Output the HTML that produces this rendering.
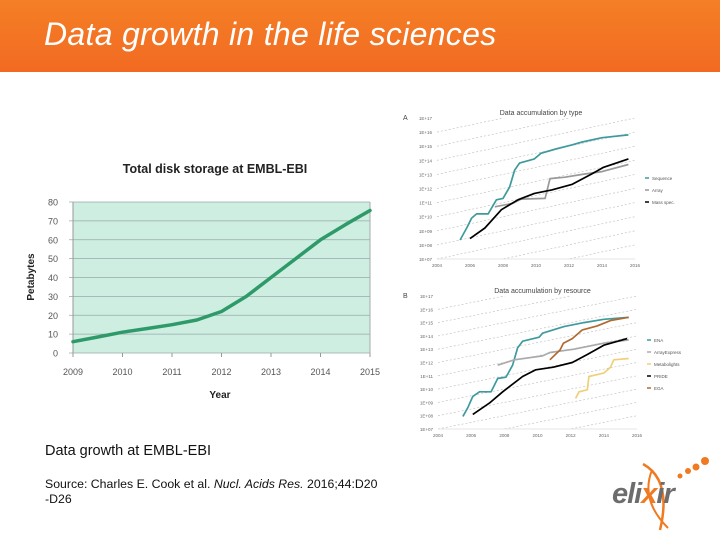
<!DOCTYPE html>
<html><head><meta charset="utf-8"><style>
body{margin:0;width:720px;height:540px;background:#fff;overflow:hidden;position:relative;font-family:"Liberation Sans",sans-serif}
.hdr{position:absolute;left:0;top:0;width:720px;height:72px;background:linear-gradient(#f47f25,#f26a22)}
.hdr h1{margin:0;position:absolute;left:44px;top:16px;font:italic 32px "Liberation Sans",sans-serif;color:#fff;font-weight:normal;letter-spacing:0.3px}
.cap{position:absolute;left:45px;color:#111}
svg{position:absolute;left:0;top:0}
</style></head><body>
<div class="hdr"><h1>Data growth in the life sciences</h1></div>
<div class="cap" style="top:443px;font-size:14.5px">Data growth at EMBL-EBI</div>
<div class="cap" style="top:477px;font-size:12.3px;line-height:15px;width:340px">Source: Charles E. Cook et al. <i>Nucl. Acids Res.</i> 2016;44:D20<br>-D26</div>
<svg id="s" width="720" height="540"></svg>
<script>
// Main chart data
const years=[2009,2009.5,2010,2010.5,2011,2011.5,2012,2012.5,2013,2013.5,2014,2014.5,2015];
const petabytes=[6,8.5,11,13,15,17.5,22,30,40,50,60,68,75.5];
const xTicks=[2009,2010,2011,2012,2013,2014,2015];
const yTicks=[0,10,20,30,40,50,60,70,80];
// Chart A data
const aSeqX=[2005.4,2005.8,2006.1,2006.4,2007.1,2007.6,2008.0,2008.4,2008.7,2009.0,2009.9,2010.3,2011.2,2012.2,2012.8,2014.0,2015.6];
const aSeqY=[8.35,9.2,9.9,10.2,10.2,11.2,11.3,12.1,13.3,13.8,14.1,14.5,14.8,15.1,15.3,15.6,15.8];
const aArrX=[2007.5,2008.6,2009.1,2010.55,2010.85,2011.76,2012.8,2014.0,2015.6];
const aArrY=[10.7,10.95,11.25,11.3,12.7,12.8,13.0,13.2,13.7];
const aMsX=[2006.0,2006.9,2007.9,2008.9,2009.9,2010.96,2012.2,2013.4,2014.1,2015.6];
const aMsY=[8.45,9.2,10.5,11.2,11.65,11.9,12.3,13.05,13.5,14.1];
// Chart B data
const bEnaX=[2005.5,2005.8,2006.1,2006.5,2007.2,2007.6,2008.1,2008.5,2008.8,2009.1,2010.1,2010.3,2011.6,2012.8,2014.0,2015.5];
const bEnaY=[7.95,8.6,9.45,9.8,9.8,10.8,10.9,11.8,13.1,13.6,13.9,14.2,14.7,15.0,15.25,15.4];
const bArrX=[2007.6,2008.6,2010.3,2010.75,2012.2,2014.0,2015.5];
const bArrY=[11.8,12.2,12.5,12.75,13.0,13.45,13.7];
const bMetX=[2012.3,2012.5,2013.0,2013.1,2014.0,2014.4,2014.6,2015.5];
const bMetY=[9.3,9.8,9.95,10.95,11.2,11.65,12.2,12.3];
const bPriX=[2006.1,2007.1,2007.9,2009.1,2009.9,2010.95,2012.1,2013.0,2014.0,2015.4];
const bPriY=[8.1,8.95,9.8,10.95,11.45,11.65,12.0,12.6,13.3,13.8];
const bEgaX=[2010.75,2011.36,2011.56,2012.1,2012.7,2013.6,2014.4,2015.5];
const bEgaY=[12.2,12.95,13.45,13.8,14.45,14.75,15.15,15.4];
const smallXTicks=[2004,2006,2008,2010,2012,2014,2016];
const smallYTicks=[7,8,9,10,11,12,13,14,15,16,17];

const S=document.getElementById('s');const NS='http://www.w3.org/2000/svg';
function el(t,a,p){const e=document.createElementNS(NS,t);for(const k in a)e.setAttribute(k,a[k]);(p||S).appendChild(e);return e;}
function txt(x,y,s,a){const e=el('text',Object.assign({x:x,y:y},a));e.textContent=s;return e;}

// Main chart
const L=73,R=370,T=202,B=353;
const mx=v=>L+(v-2009)/6*(R-L), my=v=>B-v/80*(B-T);
const g=el('g',{});


el('rect',{x:L,y:T,width:R-L,height:B-T,fill:'#cdeee0'},g);
yTicks.forEach(v=>{const ln=el('line',{x1:L-4,x2:R,y1:my(v),y2:my(v),stroke:'#9aa',"stroke-width":0.8},g);

const t=txt(58,my(v)+3.5,v,{"font-size":9,fill:'#555',"text-anchor":'end'},g);g.appendChild(t);
});
el('line',{x1:L,x2:L,y1:T,y2:B,stroke:'#999'},g);el('line',{x1:R,x2:R,y1:T,y2:B,stroke:'#aaa'},g);
xTicks.forEach(v=>{el('line',{x1:mx(v),x2:mx(v),y1:B,y2:B+4,stroke:'#999'},g);
const t=txt(mx(v),375,v,{"font-size":9,fill:'#555',"text-anchor":'middle'});g.appendChild(t);
});
let d='';years.forEach((y,i)=>{d+=(i?'L':'M')+mx(y).toFixed(1)+','+my(petabytes[i]).toFixed(1);});
const ml=el('path',{d:d,fill:'none',stroke:'#2e9a6a',"stroke-width":3.5,"stroke-linejoin":'round',"stroke-linecap":'round'},g);

let t1=txt(215,173,'Total disk storage at EMBL-EBI',{"font-size":12.5,"font-weight":'bold',fill:'#222',"text-anchor":'middle'});

let t2=txt(220,398,'Year',{"font-size":10,"font-weight":'bold',fill:'#222',"text-anchor":'middle'});

let t3=txt(0,0,'Petabytes',{"font-size":10,"font-weight":'bold',fill:'#222',"text-anchor":'middle',transform:'translate(34,277) rotate(-90)'});


// Small log charts
function small(name,ox,oy,top,bot,left,right,title,letter,series,legY){
 const gg=el('g',{});
 const sx=v=>left+(v-2004)/12*(right-left), sy=v=>bot-(v-7)/10*(bot-top);
 const cid=name+'-clip';const cp=el('clipPath',{id:cid},gg);el('rect',{x:left,y:top,width:right-left,height:bot-top},cp);
 for(let c=-2;c<17;c++){el('line',{x1:sx(2004),y1:sy(c),x2:sx(2016),y2:sy(c+3),stroke:'#bbb',"stroke-width":0.6,"stroke-dasharray":'2,2',"clip-path":'url(#'+cid+')'},gg);}
 smallYTicks.forEach(v=>{const t=txt(left-5,sy(v)+2,'1E+'+(v<10?'0':'')+v,{"font-size":4.5,fill:'#666',"text-anchor":'end'});gg.appendChild(t);
 });
 smallXTicks.forEach(v=>{const t=txt(sx(v),bot+8,v,{"font-size":4.5,fill:'#666',"text-anchor":'middle'});gg.appendChild(t);
 });
 el('line',{x1:left,x2:right,y1:bot,y2:bot,stroke:'#ccc',"stroke-width":0.5},gg);
 const tt=txt((left+right)/2+5,top-3,title,{"font-size":7,fill:'#444',"text-anchor":'middle'});gg.appendChild(tt);
 
 const lt=txt(ox,top+2,letter,{"font-size":7,fill:'#444'});gg.appendChild(lt);
 
 series.forEach((s,i)=>{let d='';s.x.forEach((x,j)=>{d+=(j?'L':'M')+sx(x).toFixed(1)+','+sy(s.y[j]).toFixed(1);});
  const p=el('path',{d:d,fill:'none',stroke:s.c,"stroke-width":1.7,"stroke-linejoin":'round'},gg);
  
  const ly=legY+i*(s.gap);
  el('line',{x1:right+10,x2:right+14,y1:ly,y2:ly,stroke:s.c,"stroke-width":1.5},gg);
  const lg=txt(right+17,ly+2,s.label,{"font-size":4.5,fill:'#555'});gg.appendChild(lg);
  });
}
small('chart-by-type',403,95,118,259,437,635,'Data accumulation by type','A',[
 {x:aSeqX,y:aSeqY,c:'#3f9a9c',n:'sequence',label:'Sequence',gap:12},
 {x:aArrX,y:aArrY,c:'#999',n:'array',label:'Array',gap:12},
 {x:aMsX,y:aMsY,c:'#000',n:'mass-spec',label:'Mass spec.',gap:12}],178);
small('chart-by-resource',403,280,296,429,438,637,'Data accumulation by resource','B',[
 {x:bEnaX,y:bEnaY,c:'#3f9a9c',n:'ena',label:'ENA',gap:12},
 {x:bArrX,y:bArrY,c:'#aaa',n:'arrayexpress',label:'ArrayExpress',gap:12},
 {x:bMetX,y:bMetY,c:'#f0cf7a',n:'metabolights',label:'Metabolights',gap:12},
 {x:bPriX,y:bPriY,c:'#000',n:'pride',label:'PRIDE',gap:12},
 {x:bEgaX,y:bEgaY,c:'#b06a30',n:'ega',label:'EGA',gap:12}],340);
</script>
<svg width="720" height="540" style="pointer-events:none">
<path d="M643,464 Q672,480 660,530" fill="none" stroke="#f07a22" stroke-width="2.5"/>
<path d="M652,470 Q640,500 668,528" fill="none" stroke="#f07a22" stroke-width="2"/>
<circle cx="680" cy="476" r="2.5" fill="#f07a22"/><circle cx="688" cy="471" r="3" fill="#f07a22"/><circle cx="696" cy="467" r="3.5" fill="#f07a22"/><circle cx="705" cy="461" r="4" fill="#f07a22"/>
<text x="612" y="503" font-family="Liberation Sans,sans-serif" font-size="29" font-style="italic" font-weight="bold" fill="#6d6d6d" letter-spacing="-1">eli<tspan fill="#f07a22">x</tspan>ir</text>
</svg>
</body></html>
